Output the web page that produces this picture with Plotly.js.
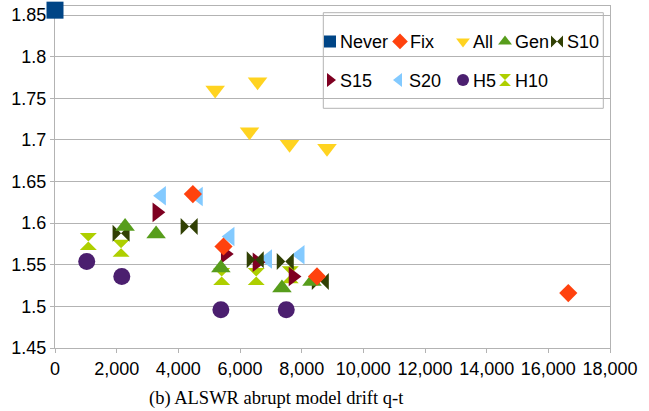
<!DOCTYPE html>
<html>
<head>
<meta charset="utf-8">
<script src="https://cdn.plot.ly/plotly-3.0.1.min.js"></script>
<style>html,body{margin:0;padding:0;background:#fff;}#chart{width:649px;height:411px;}</style>
</head>
<body>
<div id="chart"></div>
<script>
// Series data (x = query time, y = metric)
const seriesNames = ["Never", "Fix", "All", "Gen", "S10", "S15", "S20", "H5", "H10"];
const neverX = [0];
const neverY = [1.856];
const fixX = [4471, 5465, 8497, 16647];
const fixY = [1.635, 1.572, 1.536, 1.516];
const allX = [5195, 6569, 6309, 7608, 8822];
const allY = [1.760, 1.770, 1.710, 1.695, 1.690];
const genX = [2273, 3279, 5380, 7361, 8335];
const genY = [1.596, 1.587, 1.546, 1.522, 1.530];
const s10X = [2143, 4351, 6494, 7468, 8605];
const s10Y = [1.588, 1.596, 1.556, 1.554, 1.530];
const s15X = [3302, 5520, 6549, 7718];
const s15Y = [1.613, 1.563, 1.553, 1.536];
const s20X = [3458, 4653, 5682, 6900, 7955];
const s20Y = [1.633, 1.632, 1.584, 1.557, 1.562];
const h5X = [1029, 2166, 5380, 7500];
const h5Y = [1.554, 1.536, 1.496, 1.496];
const h10X = [1081, 2143, 5406, 6526, 7630];
const h10Y = [1.578, 1.570, 1.536, 1.536, 1.538];
const xTickVals = [0, 2000, 4000, 6000, 8000, 10000, 12000, 14000, 16000, 18000];
const captionText = "(b) ALSWR abrupt model drift q-t";

const xs = [neverX, fixX, allX, genX, s10X, s15X, s20X, h5X, h10X];
const ys = [neverY, fixY, allY, genY, s10Y, s15Y, s20Y, h5Y, h10Y];
const colors = ["#004586", "#ff420e", "#ffd320", "#579d1c", "#314004", "#7e0021", "#83caff", "#4b1f6f", "#aecf00"];
const symbols = ["square", "diamond", "triangle-down", "triangle-up", "bowtie", "triangle-right", "triangle-left", "circle", "hourglass"];
const sizes = [17, 14, 17, 17, 17, 17, 17, 17, 17];

// plot area geometry (pixels)
const W = 649, H = 411;
const mL = 55, mR = 39, mT = 6, mB = 63;
const pw = W - mL - mR, ph = H - mT - mB;
// legend symbol centre (px) and row centre (px)
const legMarkX = [330, 400, 463, 505, 557, 330, 399, 463, 505];
const legRowY = [41.7, 41.7, 41.7, 41.7, 41.7, 80.3, 80.3, 80.3, 80.3];

const traces = [];
const layout = {
  width: W, height: H,
  showlegend: true,
  margin: {l: mL, r: mR, t: mT, b: mB, pad: 0},
  paper_bgcolor: "#fff", plot_bgcolor: "#fff",
  font: {family: "Liberation Sans, Arial, sans-serif", size: 18, color: "#000"},
  xaxis: {
    range: [0, 18000], tickvals: xTickVals, tickformat: ",d",
    showgrid: false, zeroline: false, layer: "below traces",
    showline: true, linecolor: "#b3b3b3", linewidth: 1, mirror: true,
    ticks: "outside", ticklen: 4, tickcolor: "#b3b3b3",
    tickfont: {size: 18, color: "#000"}, automargin: false
  },
  yaxis: {
    range: [1.45, 1.861], tick0: 1.45, dtick: 0.05, layer: "below traces",
    showgrid: true, gridcolor: "#b3b3b3", gridwidth: 1, zeroline: false,
    showline: true, linecolor: "#b3b3b3", linewidth: 1, mirror: true,
    ticks: "outside", ticklen: 4, tickcolor: "#b3b3b3",
    tickfont: {size: 18, color: "#000"}, automargin: false
  },
  shapes: [{
    type: "rect", xref: "paper", yref: "paper", layer: "below",
    x0: (323.3 - mL) / pw, x1: (603.3 - mL) / pw,
    y0: (H - mB - 108.3) / ph, y1: (H - mB - 12.7) / ph,
    line: {color: "#b3b3b3", width: 1}, fillcolor: "rgba(0,0,0,0)"
  }],
  annotations: [{
    text: captionText, xref: "paper", yref: "paper",
    x: (276 - mL) / pw, y: (H - mB - 398) / ph,
    xanchor: "center", yanchor: "middle", showarrow: false,
    font: {family: "Liberation Serif, Times New Roman, serif", size: 18.5, color: "#000"}
  }]
};

for (let i = 0; i < seriesNames.length; i++) {
  const key = i === 0 ? "legend" : "legend" + (i + 1);
  layout[key] = {
    x: (legMarkX[i] - 20 - mL) / pw,
    y: (H - mB - legRowY[i]) / ph,
    xanchor: "left", yanchor: "middle",
    bgcolor: "rgba(0,0,0,0)", borderwidth: 0,
    itemsizing: "constant",
    font: {family: "Liberation Sans, Arial, sans-serif", size: 18, color: "#000"}
  };
}
// draw in reverse order so that the first series lies on top
for (let i = seriesNames.length - 1; i >= 0; i--) {
  traces.push({
    type: "scatter", mode: "markers", name: seriesNames[i],
    x: xs[i], y: ys[i], cliponaxis: false, showlegend: true,
    legend: i === 0 ? "legend" : "legend" + (i + 1),
    marker: {symbol: symbols[i], color: colors[i], size: sizes[i], line: {width: 0}},
    hoverinfo: "x+y+name"
  });
}

const gdEl = document.getElementById("chart");
// tighten the gap between each legend symbol and its label, as in the original
function tightenLegend() {
  document.querySelectorAll("svg text").forEach(function (t) {
    const name = (t.getAttribute("data-unformatted") || t.textContent || "").trim();
    if (seriesNames.indexOf(name) < 0) return;
    if (t.getAttribute("text-anchor") !== "start") return;
    if (t.getAttribute("x") === "40") t.setAttribute("x", "30");
    t.querySelectorAll("tspan").forEach(function (s) {
      if (s.getAttribute("x") === "40") s.setAttribute("x", "30");
    });
  });
}
const obs = new MutationObserver(tightenLegend);
obs.observe(document.body, {subtree: true, childList: true, attributes: true, attributeFilter: ["x"]});

Plotly.newPlot(gdEl, traces, layout, {displayModeBar: false, staticPlot: true}).then(function (gd) {
  tightenLegend();
  gd.on("plotly_afterplot", tightenLegend);
  [0, 50, 200, 500, 1000].forEach(function (ms) { setTimeout(tightenLegend, ms); });
});
</script>
</body>
</html>
